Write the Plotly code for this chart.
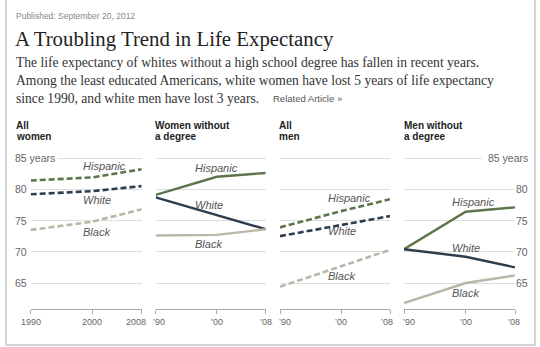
import plotly.graph_objects as go

W, H = 540, 347

# ---- data -------------------------------------------------------------
years = [1990, 2000, 2008]
groups = ["Hispanic", "White", "Black"]

all_women = {"Hispanic": [81.4, 81.9, 83.2], "White": [79.2, 79.7, 80.5], "Black": [73.5, 74.8, 76.8]}
women_no_degree = {"Hispanic": [79.1, 82.0, 82.6], "White": [78.7, 75.8, 73.6], "Black": [72.6, 72.7, 73.6]}
all_men = {"Hispanic": [73.9, 76.5, 78.4], "White": [72.5, 74.3, 75.7], "Black": [64.4, 67.7, 70.3]}
men_no_degree = {"Hispanic": [70.4, 76.4, 77.1], "White": [70.4, 69.2, 67.5], "Black": [61.8, 65.0, 66.2]}

panel_titles = [["All", "women"], ["Women without", "a degree"], ["All", "men"], ["Men without", "a degree"]]
panel_data = [all_women, women_no_degree, all_men, men_no_degree]
panel_dashed = [True, False, True, False]

long_ticks = ["1990", "2000", "2008"]
short_ticks = ["\u201990", "\u201900", "\u201908"]

y_vals = [65, 70, 75, 80, 85]
y_text = ["65", "70", "75", "80", "85 years"]

# label anchor points (year, value) for the group names in each panel
label_pos = [
    {"Hispanic": (2002.0, 83.7), "White": (2000.7, 78.3), "Black": (2000.7, 73.2)},
    {"Hispanic": (2000.0, 83.4), "White": (1998.7, 77.5), "Black": (1998.7, 71.2)},
    {"Hispanic": (2001.3, 78.6), "White": (2000.1, 73.4), "Black": (2000.1, 66.2)},
    {"Hispanic": (2001.2, 78.0), "White": (2000.0, 70.6), "Black": (2000.0, 63.4)},
]

# ---- styling ----------------------------------------------------------
colors = {"Hispanic": "#5d7549", "White": "#2c3d4d", "Black": "#bab6a8"}
grid_color = "#dedede"
sans = "Liberation Sans, Arial, sans-serif"
serif = "Liberation Serif, Georgia, serif"

# small horizontal nudges so neighbouring year labels do not collide
tick_nudge = [[0, 0, -6], [3, 0, 0], [4.5, 0, -3], [5, 0, -1]]
title_x = [15, 154, 278, 403]


def px(x):
    return x / W


def py(y):
    return 1 - y / H


panel_px = [(30.7, 141.7), (155.7, 265.7), (280.0, 390.0), (404.0, 515.0)]
plot_top, plot_bottom = 140, 309
y_range = [85 - (plot_bottom - 158) / 6.25, 85 + (158 - plot_top) / 6.25]

fig = go.Figure()
layout = dict(
    width=W, height=H, margin=dict(l=0, r=0, t=0, b=0, autoexpand=False),
    paper_bgcolor="white", plot_bgcolor="rgba(0,0,0,0)",
    showlegend=False, annotations=[], shapes=[],
)

for i, (data, dashed) in enumerate(zip(panel_data, panel_dashed)):
    n = "" if i == 0 else str(i + 1)
    xa, ya = "x" + n, "y" + n
    for g in groups:
        fig.add_trace(go.Scatter(
            x=years, y=data[g], mode="lines", xaxis=xa, yaxis=ya,
            line=dict(color=colors[g], width=2.6 if dashed else 2.4,
                      dash="6px,3px" if dashed else "solid"),
            hoverinfo="skip",
        ))
        lx, ly = label_pos[i][g]
        layout["annotations"].append(dict(
            x=lx, y=ly, xref=xa, yref=ya, text="<i>" + g + "</i>", showarrow=False,
            font=dict(family=sans, size=11, color="#555555"),
            xanchor="center", yanchor="middle",
        ))
    x0, x1 = panel_px[i]
    layout["xaxis" + n] = dict(
        domain=[px(x0), px(x1)], range=[1990, 2008], anchor=ya,
        tickvals=years, showticklabels=False,
        showline=True, linecolor="#aaaaaa", linewidth=1,
        ticks="outside", ticklen=4, tickcolor="#aaaaaa", tickwidth=1,
        showgrid=False, zeroline=False, side="bottom", automargin=False,
        fixedrange=True,
    )
    layout["yaxis" + n] = dict(
        domain=[py(plot_bottom), py(plot_top)], range=y_range, anchor=xa,
        tickvals=y_vals, showticklabels=False, showgrid=True, automargin=False,
        gridcolor=grid_color, gridwidth=1, zeroline=False, showline=False,
        fixedrange=True,
    )
    # year labels under the axis
    texts = long_ticks if i == 0 else short_ticks
    for yr, t, dx in zip(years, texts, tick_nudge[i]):
        layout["annotations"].append(dict(
            x=yr, y=py(321.5), xref=xa, yref="paper", text=t, showarrow=False,
            xanchor="center", yanchor="middle", xshift=dx,
            font=dict(family=sans, size=9, color="#666666"),
        ))
    # panel heading, two bold lines
    for k, line in enumerate(panel_titles[i]):
        layout["annotations"].append(dict(
            x=px(title_x[i] - 1), y=py(125 + 11 * k), xref="paper", yref="paper",
            text="<b>" + line + "</b>", showarrow=False, xanchor="left", yanchor="middle",
            font=dict(family=sans, size=10, color="#222222"),
        ))

# value labels on the outer panels
for v, t in zip(y_vals, y_text):
    pad_l = 3
    layout["annotations"].append(dict(
        x=px(15 - pad_l - 1), y=v, xref="paper", yref="y", text=t, showarrow=False,
        xanchor="left", yanchor="middle", bgcolor="white", borderpad=pad_l,
        font=dict(family=sans, size=10.5, color="#666666"),
    ))
    pad_r = 5 if t == "85 years" else 1
    layout["annotations"].append(dict(
        x=px(528 + pad_r + 1), y=v, xref="paper", yref="y4", text=t, showarrow=False,
        xanchor="right", yanchor="middle", bgcolor="white", borderpad=pad_r,
        font=dict(family=sans, size=10.5, color="#666666"),
    ))

# header texts
layout["annotations"] += [
    dict(x=px(14), y=py(16), xref="paper", yref="paper", text="Published: September 20, 2012",
         showarrow=False, xanchor="left", yanchor="middle",
         font=dict(family=sans, size=8.5, color="#888888")),
    dict(x=px(13), y=py(39), xref="paper", yref="paper", text="A Troubling Trend in Life Expectancy",
         showarrow=False, xanchor="left", yanchor="middle",
         font=dict(family=serif, size=20.8, color="#222222")),
]
body = [
    "The life expectancy of whites without a high school degree has fallen in recent years.",
    "Among the least educated Americans, white women have lost 5 years of life expectancy",
    "since 1990, and white men have lost 3 years.",
]
for k, line in enumerate(body):
    layout["annotations"].append(dict(
        x=px(14), y=py(63 + 17.8 * k), xref="paper", yref="paper", text=line,
        showarrow=False, xanchor="left", yanchor="middle",
        font=dict(family=serif, size=13.6, color="#333333"),
    ))
layout["annotations"].append(dict(
    x=px(271), y=py(98.6), xref="paper", yref="paper", text="Related Article \u00bb",
    showarrow=False, xanchor="left", yanchor="middle",
    font=dict(family=sans, size=9.5, color="#555555"),
))

# frame around the graphic
layout["shapes"].append(dict(
    type="rect", xref="paper", yref="paper",
    x0=px(6), x1=px(535), y0=py(345), y1=py(-10),
    line=dict(color="#d4d4d4", width=2), fillcolor="rgba(0,0,0,0)", layer="below",
))

fig.update_layout(**layout)
fig.write_html("out.html")
